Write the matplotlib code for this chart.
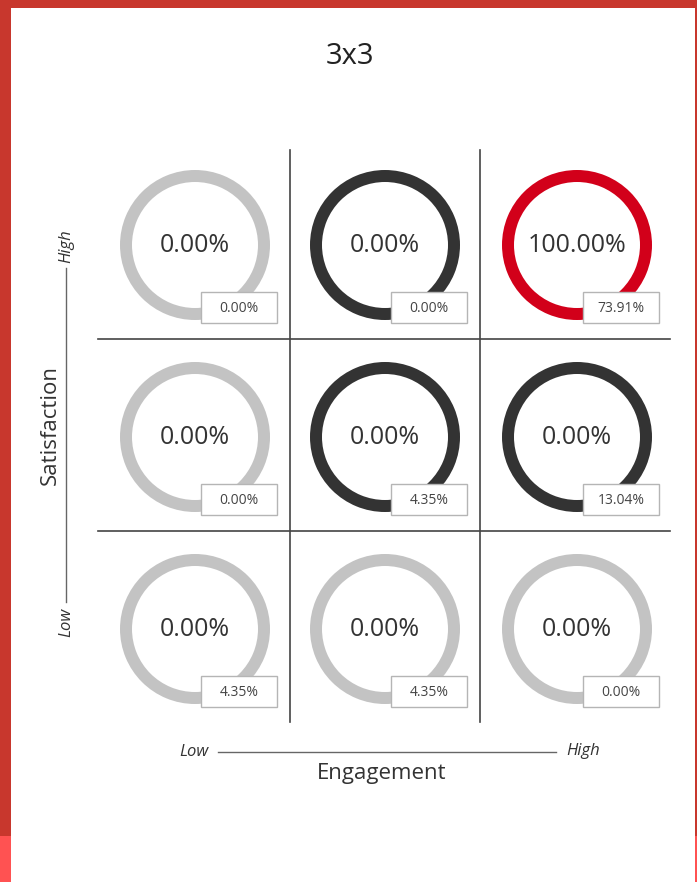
import matplotlib
matplotlib.use("Agg")
import matplotlib.pyplot as plt
from matplotlib.patches import Wedge, Rectangle

plt.rcParams['font.family'] = ['Open Sans', 'DejaVu Sans']

# ---- data ----
title = "3x3"
engagement_levels = ["Low", "Medium", "High"]          # columns
satisfaction_levels = ["High", "Medium", "Low"]        # rows, top to bottom
center_values = [[0.00, 0.00, 100.00],
                 [0.00, 0.00, 0.00],
                 [0.00, 0.00, 0.00]]
box_values = [[0.00, 0.00, 73.91],
              [0.00, 4.35, 13.04],
              [4.35, 4.35, 0.00]]
ring_kind = [["light", "dark", "red"],
             ["light", "dark", "dark"],
             ["light", "light", "light"]]

# ---- styles ----
ring_colors = {"light": "#c3c3c3", "dark": "#333333", "red": "#d2001a"}
border_red = "#c8372d"
border_red2 = "#ff5252"
W, H = 697, 882

fig = plt.figure(figsize=(W / 100, H / 100), dpi=100)
ax = fig.add_axes([0, 0, 1, 1])
ax.set_xlim(0, W)
ax.set_ylim(H, 0)
ax.axis("off")

# borders
ax.add_patch(Rectangle((0, 0), W, 8, color=border_red, lw=0))
ax.add_patch(Rectangle((0, 0), 11, 836, color=border_red, lw=0))
ax.add_patch(Rectangle((0, 836), 11, H - 836, color=border_red2, lw=0))
ax.add_patch(Rectangle((694.5, 0), 2.5, 836, color=border_red, lw=0))
ax.add_patch(Rectangle((694.5, 836), 2.5, H - 836, color=border_red2, lw=0))

ax.text(350, 57, title, ha="center", va="center", fontsize=21, color="#222222")

col_x = [195, 385, 577]
row_y = [245, 437, 629]
R, ring_w = 75, 12

# grid lines
for x in [290, 480]:
    ax.plot([x, x], [150, 722], color="#444444", lw=1.2)
for y in [339, 531]:
    ax.plot([98, 670], [y, y], color="#444444", lw=1.2)

for r in range(len(satisfaction_levels)):
    for c in range(len(engagement_levels)):
        cx, cy = col_x[c], row_y[r]
        ax.add_patch(Wedge((cx, cy), R, 0, 360, width=ring_w,
                           color=ring_colors[ring_kind[r][c]], lw=0))
        ax.text(cx, cy + 1, f"{center_values[r][c]:.2f}%", ha="center", va="center",
                fontsize=18, color="#333333")
        bx0, by0, bw, bh = cx + 6, cy + 47, 76, 31
        ax.add_patch(Rectangle((bx0, by0), bw, bh, facecolor="white",
                               edgecolor="#b5b5b5", lw=1))
        ax.text(bx0 + bw / 2, by0 + bh / 2 + 1, f"{box_values[r][c]:.2f}%",
                ha="center", va="center", fontsize=10, color="#444444")

# Satisfaction axis
ax.plot([66, 66], [268, 602], color="#666666", lw=1)
ax.text(66, 246, "High", rotation=90, ha="center", va="center", fontsize=12,
        style="italic", color="#333333",
        bbox=dict(facecolor="white", edgecolor="none", pad=1))
ax.text(66, 622, "Low", rotation=90, ha="center", va="center", fontsize=12,
        style="italic", color="#333333")
ax.text(50, 425, "Satisfaction", rotation=90, ha="center", va="center",
        fontsize=16, color="#333333")

# Engagement axis
ax.plot([218, 556], [752, 752], color="#666666", lw=1)
ax.text(194, 752, "Low", ha="center", va="center", fontsize=12,
        style="italic", color="#333333")
ax.text(583, 751, "High", ha="center", va="center", fontsize=12,
        style="italic", color="#333333")
ax.text(382, 773, "Engagement", ha="center", va="center", fontsize=16,
        color="#333333")

fig.savefig("out.png", dpi=100)
